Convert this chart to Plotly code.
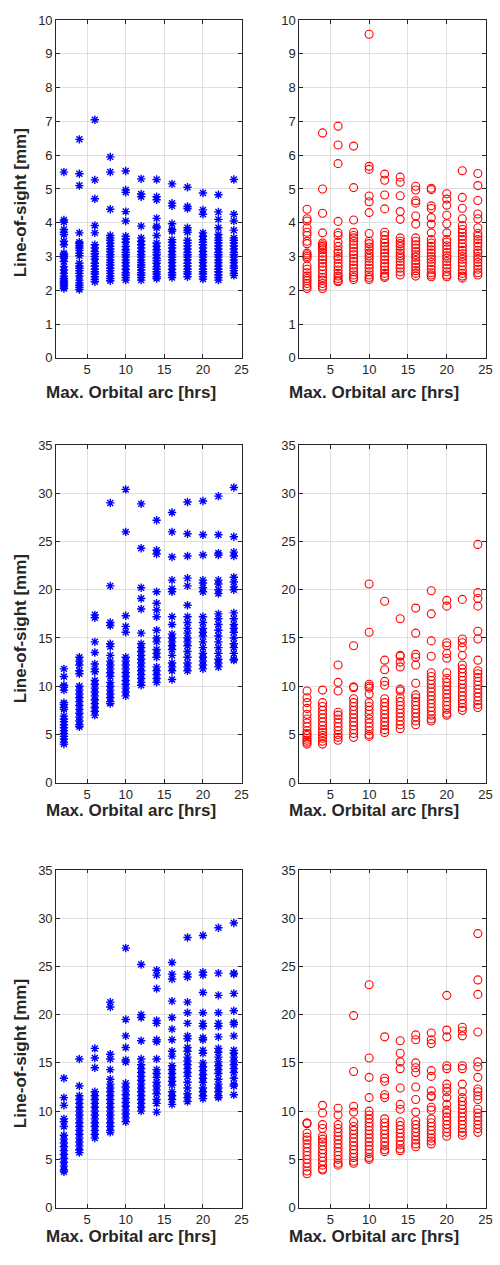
import plotly.graph_objects as go

# ---------------- data ----------------
arc_hrs = [2, 4, 6, 8, 10, 12, 14, 16, 18, 20, 22, 24]

x_title = "Max. Orbital arc [hrs]"
y_title = "Line-of-sight [mm]"

# Row 1, left (blue asterisks), one list per orbital arc
los_r1_left = [
    [5.5, 4.08, 4.02, 3.8, 3.72, 3.65, 3.45, 3.35, 3.1, 3.05, 3.0, 2.95, 2.85, 2.7, 2.6, 2.5, 2.42, 2.35, 2.3, 2.25, 2.2, 2.15, 2.1, 2.05],
    [6.47, 5.45, 5.1, 3.7, 3.42, 3.38, 3.32, 3.25, 3.18, 3.1, 3.02, 2.8, 2.72, 2.65, 2.58, 2.5, 2.42, 2.3, 2.22, 2.15, 2.08, 2.02],
    [7.05, 5.27, 4.71, 3.92, 3.7, 3.35, 3.25, 3.15, 3.08, 3.0, 2.92, 2.8, 2.72, 2.62, 2.55, 2.48, 2.4, 2.32, 2.25],
    [5.95, 5.5, 4.4, 3.62, 3.55, 3.48, 3.4, 3.3, 3.22, 3.15, 3.05, 2.98, 2.9, 2.82, 2.75, 2.65, 2.58, 2.5, 2.42, 2.35, 2.28],
    [5.53, 4.97, 4.9, 4.33, 4.05, 3.6, 3.52, 3.42, 3.3, 3.2, 3.12, 3.05, 2.98, 2.9, 2.82, 2.72, 2.62, 2.52, 2.45, 2.38, 2.3],
    [5.3, 4.85, 4.77, 3.9, 3.55, 3.45, 3.35, 3.25, 3.15, 3.05, 2.98, 2.9, 2.82, 2.75, 2.68, 2.6, 2.52, 2.45, 2.38, 2.3],
    [5.28, 4.77, 4.68, 4.13, 3.9, 3.85, 3.62, 3.4, 3.3, 3.2, 3.12, 3.05, 2.95, 2.88, 2.8, 2.7, 2.62, 2.55, 2.48, 2.4, 2.35],
    [5.15, 4.58, 4.5, 3.97, 3.8, 3.75, 3.5, 3.42, 3.33, 3.25, 3.15, 3.05, 2.98, 2.9, 2.82, 2.72, 2.62, 2.52, 2.45, 2.38],
    [5.05, 4.48, 4.42, 3.85, 3.78, 3.72, 3.48, 3.4, 3.32, 3.22, 3.12, 3.05, 2.98, 2.9, 2.8, 2.72, 2.62, 2.55, 2.48, 2.4],
    [4.88, 4.38, 4.25, 3.7, 3.6, 3.5, 3.42, 3.35, 3.25, 3.15, 3.05, 2.98, 2.9, 2.82, 2.72, 2.62, 2.55, 2.48, 2.4, 2.33],
    [4.83, 4.32, 4.1, 3.85, 3.65, 3.55, 3.48, 3.4, 3.32, 3.22, 3.12, 3.05, 2.98, 2.9, 2.82, 2.72, 2.62, 2.55, 2.45, 2.38, 2.3],
    [5.28, 4.25, 4.05, 3.78, 3.55, 3.48, 3.4, 3.32, 3.22, 3.12, 3.05, 2.98, 2.9, 2.82, 2.72, 2.65, 2.58, 2.5, 2.44],
]

# Row 1, right (red circles)
los_r1_right = [
    [4.4, 4.12, 4.05, 3.85, 3.72, 3.62, 3.45, 3.38, 3.1, 3.05, 3.0, 2.95, 2.72, 2.62, 2.52, 2.42, 2.35, 2.28, 2.2, 2.12, 2.05],
    [6.66, 5.0, 4.28, 3.7, 3.4, 3.35, 3.3, 3.25, 3.2, 3.1, 3.0, 2.9, 2.8, 2.7, 2.6, 2.48, 2.38, 2.3, 2.2, 2.12, 2.05],
    [6.86, 6.3, 5.75, 4.04, 3.7, 3.62, 3.42, 3.3, 3.18, 3.1, 3.0, 2.92, 2.8, 2.7, 2.6, 2.5, 2.42, 2.35, 2.28, 2.25],
    [6.27, 5.04, 4.08, 3.72, 3.62, 3.55, 3.45, 3.35, 3.25, 3.15, 3.05, 2.95, 2.85, 2.75, 2.65, 2.55, 2.45, 2.38, 2.32],
    [9.58, 5.67, 5.58, 4.79, 4.62, 4.3, 3.68, 3.45, 3.38, 3.28, 3.2, 3.1, 3.02, 2.95, 2.85, 2.75, 2.65, 2.55, 2.45, 2.38, 2.32],
    [5.44, 5.26, 4.82, 4.41, 3.72, 3.62, 3.5, 3.4, 3.3, 3.2, 3.1, 3.0, 2.9, 2.8, 2.7, 2.6, 2.5, 2.42, 2.38],
    [5.35, 5.2, 4.8, 4.33, 4.1, 3.55, 3.45, 3.38, 3.3, 3.2, 3.1, 3.02, 2.95, 2.85, 2.75, 2.65, 2.55, 2.45],
    [5.08, 4.97, 4.65, 4.58, 4.2, 3.96, 3.55, 3.45, 3.35, 3.25, 3.15, 3.05, 2.98, 2.88, 2.78, 2.68, 2.58, 2.5, 2.42],
    [5.02, 4.98, 4.5, 4.42, 4.15, 3.96, 3.7, 3.5, 3.4, 3.3, 3.2, 3.1, 3.0, 2.92, 2.82, 2.72, 2.62, 2.52, 2.45, 2.4],
    [4.86, 4.7, 4.52, 4.22, 3.97, 3.7, 3.5, 3.42, 3.32, 3.22, 3.12, 3.02, 2.95, 2.85, 2.75, 2.65, 2.55, 2.45, 2.4],
    [5.54, 4.75, 4.43, 4.12, 3.92, 3.8, 3.7, 3.6, 3.5, 3.38, 3.28, 3.18, 3.08, 3.0, 2.92, 2.82, 2.72, 2.6, 2.5, 2.42, 2.36],
    [5.46, 5.1, 4.66, 4.26, 4.12, 3.85, 3.68, 3.6, 3.5, 3.4, 3.3, 3.18, 3.1, 3.0, 2.92, 2.82, 2.72, 2.62, 2.52, 2.45],
]

# Row 2, left (blue asterisks)
los_r2_left = [
    [11.8, 11.0, 10.1, 9.9, 9.6, 8.3, 8.1, 7.8, 7.6, 6.9, 6.6, 6.3, 6.0, 5.7, 5.4, 5.1, 4.8, 4.5, 4.2, 4.0],
    [13.0, 12.6, 12.2, 11.6, 11.3, 10.0, 9.6, 9.2, 8.8, 8.4, 8.0, 7.6, 7.2, 6.8, 6.4, 6.0, 5.8],
    [17.4, 17.1, 14.6, 13.5, 12.3, 11.8, 11.5, 10.6, 10.2, 9.8, 9.4, 9.0, 8.6, 8.2, 7.8, 7.4, 7.0],
    [29.0, 20.4, 16.6, 16.3, 14.4, 14.1, 13.2, 12.6, 12.2, 11.8, 11.4, 11.0, 10.4, 10.0, 9.6, 9.2, 8.8, 8.4, 8.2],
    [30.4, 26.0, 17.3, 16.2, 15.6, 13.0, 12.6, 12.2, 11.8, 11.4, 11.0, 10.6, 10.2, 9.8, 9.4, 9.0],
    [28.9, 24.3, 20.2, 19.1, 18.0, 15.5, 14.4, 14.0, 13.6, 13.2, 12.8, 12.4, 12.0, 11.6, 11.2, 10.8, 10.4, 10.1],
    [27.2, 24.1, 23.7, 19.8, 18.6, 17.9, 17.2, 15.8, 15.0, 14.6, 13.8, 13.4, 13.0, 12.0, 11.6, 11.2, 10.8, 10.4],
    [28.0, 26.0, 23.4, 21.0, 20.1, 19.8, 17.2, 16.4, 15.4, 15.0, 14.6, 14.2, 13.8, 13.2, 12.4, 12.0, 11.6, 10.7],
    [29.1, 25.8, 23.5, 21.2, 20.4, 18.4, 17.2, 16.6, 16.0, 15.5, 15.0, 14.6, 14.2, 13.6, 13.0, 12.4, 12.0, 11.6],
    [29.2, 25.7, 23.6, 21.0, 20.7, 20.2, 19.8, 17.2, 16.6, 16.0, 15.6, 15.2, 14.6, 14.0, 13.4, 13.0, 12.6, 12.2, 11.8],
    [29.7, 25.7, 23.8, 23.6, 21.0, 20.6, 20.0, 19.6, 17.5, 17.0, 16.4, 15.8, 15.2, 14.6, 14.0, 13.4, 12.8, 12.4, 12.0],
    [30.6, 25.5, 23.9, 23.5, 21.3, 20.8, 20.3, 20.0, 17.6, 17.0, 16.4, 16.0, 15.6, 15.0, 14.4, 14.0, 13.4, 12.8, 12.7],
]

# Row 2, right (red circles)
los_r2_right = [
    [9.5, 8.8, 8.3, 7.7, 7.1, 6.6, 6.2, 5.8, 5.4, 5.1, 4.9, 4.6, 4.4, 4.2, 4.0],
    [9.6, 8.3, 7.9, 7.5, 7.1, 6.7, 6.3, 5.9, 5.5, 5.2, 4.9, 4.6, 4.3, 4.0],
    [12.2, 10.4, 9.5, 7.3, 7.0, 6.6, 6.2, 5.8, 5.4, 5.0, 4.7, 4.4],
    [14.2, 9.95, 9.85, 8.7, 8.3, 7.9, 7.5, 7.1, 6.7, 6.3, 5.9, 5.5, 5.1, 4.7],
    [20.6, 15.6, 10.2, 10.0, 9.8, 9.2, 8.3, 7.9, 7.5, 7.1, 6.6, 6.2, 5.8, 5.4, 5.0, 4.8],
    [18.8, 12.7, 11.7, 10.5, 10.1, 8.7, 8.3, 7.9, 7.5, 7.1, 6.7, 6.3, 5.9, 5.5, 5.2],
    [17.0, 13.2, 13.1, 12.5, 12.0, 9.7, 9.5, 8.8, 8.4, 8.0, 7.6, 7.2, 6.8, 6.4, 6.0, 5.6],
    [18.1, 15.5, 13.3, 13.0, 12.2, 10.3, 9.1, 8.8, 8.4, 8.0, 7.6, 7.2, 6.8, 6.4, 6.0],
    [19.9, 17.5, 14.7, 13.1, 11.4, 11.0, 10.6, 10.2, 9.8, 9.4, 9.0, 8.6, 8.2, 7.8, 7.4, 7.0, 6.6, 6.4],
    [18.9, 18.3, 14.5, 14.2, 13.4, 12.9, 11.4, 10.8, 10.4, 10.0, 9.6, 9.2, 8.8, 8.4, 8.0, 7.6, 7.2, 7.0],
    [19.0, 14.9, 14.5, 14.0, 13.2, 12.2, 11.8, 11.4, 11.0, 10.6, 10.2, 9.8, 9.4, 9.0, 8.6, 8.2, 7.8, 7.5],
    [24.7, 19.7, 19.1, 18.3, 15.7, 14.9, 12.7, 11.6, 11.3, 10.9, 10.5, 10.1, 9.7, 9.3, 8.9, 8.5, 8.1, 7.8],
]

# Row 3, left (blue asterisks)
los_r3_left = [
    [13.4, 11.4, 10.6, 9.2, 8.9, 8.4, 7.5, 7.1, 6.7, 6.3, 5.9, 5.5, 5.1, 4.7, 4.3, 3.9, 3.7],
    [15.4, 12.6, 11.6, 11.2, 10.8, 10.4, 10.0, 9.6, 9.2, 8.8, 8.4, 8.0, 7.6, 7.2, 6.8, 6.4, 6.0, 5.7],
    [16.5, 15.5, 14.5, 12.0, 11.6, 11.2, 10.8, 10.4, 10.0, 9.6, 9.2, 8.8, 8.4, 8.0, 7.6, 7.2],
    [21.3, 20.8, 15.9, 15.4, 14.3, 13.3, 12.8, 12.4, 12.0, 11.6, 11.2, 10.8, 10.4, 10.0, 9.6, 9.2, 8.8, 8.4, 8.0, 7.8],
    [26.9, 19.5, 17.8, 16.6, 15.3, 15.1, 12.9, 12.5, 12.1, 11.7, 11.3, 10.9, 10.5, 10.1, 9.7, 9.3, 8.9],
    [25.2, 20.0, 19.7, 17.3, 15.4, 14.8, 14.4, 14.0, 13.6, 13.2, 12.8, 12.4, 12.0, 11.6, 11.2, 10.8, 10.4, 10.0],
    [24.6, 24.1, 22.7, 19.4, 19.1, 17.4, 17.2, 15.4, 14.3, 13.9, 13.5, 13.0, 12.6, 12.2, 11.8, 11.2, 10.8, 9.9],
    [25.4, 24.2, 23.7, 21.4, 19.7, 18.5, 17.4, 16.2, 15.7, 14.7, 14.3, 13.9, 13.5, 13.1, 12.7, 12.0, 11.6, 11.2, 10.7],
    [28.0, 24.2, 23.9, 21.3, 20.2, 19.1, 17.8, 17.5, 16.6, 16.2, 15.6, 15.2, 14.8, 14.4, 14.0, 13.6, 13.0, 12.4, 11.8, 11.4, 11.0],
    [28.2, 24.4, 24.1, 22.3, 20.2, 19.1, 18.8, 17.6, 17.4, 16.3, 16.0, 15.0, 14.6, 14.2, 13.8, 13.4, 13.0, 12.4, 12.0, 11.6, 11.3],
    [29.0, 24.3, 22.0, 20.2, 19.1, 18.8, 17.7, 16.5, 16.1, 15.6, 15.1, 14.7, 14.3, 13.9, 13.3, 12.8, 12.4, 12.0, 11.6, 11.4],
    [29.5, 24.3, 24.2, 22.2, 20.4, 19.2, 19.0, 17.8, 16.3, 16.0, 15.6, 15.2, 14.8, 14.4, 14.0, 13.4, 12.8, 12.6, 11.7],
]

# Row 3, right (red circles)
los_r3_right = [
    [8.8, 8.7, 7.7, 7.3, 7.0, 6.6, 6.2, 5.8, 5.4, 5.0, 4.6, 4.2, 3.8, 3.5],
    [10.6, 9.8, 8.6, 8.2, 7.4, 7.1, 6.8, 6.4, 6.0, 5.6, 5.2, 4.8, 4.4, 4.0, 3.9],
    [10.3, 9.6, 8.6, 8.2, 7.8, 7.4, 7.0, 6.6, 6.2, 5.8, 5.4, 5.0, 4.6, 4.4],
    [19.9, 14.1, 10.5, 9.9, 8.9, 8.4, 8.0, 7.6, 7.2, 6.8, 6.4, 6.0, 5.6, 5.2, 4.8, 4.6],
    [23.1, 15.5, 13.5, 11.4, 10.0, 9.6, 9.2, 8.8, 8.4, 8.0, 7.6, 7.2, 6.8, 6.4, 6.0, 5.6, 5.2, 5.0],
    [17.7, 13.4, 13.1, 11.7, 11.4, 9.2, 8.8, 8.4, 8.0, 7.6, 7.2, 6.8, 6.4, 6.0, 5.8],
    [17.3, 16.0, 15.1, 14.4, 12.4, 10.7, 10.2, 8.9, 8.5, 8.1, 7.7, 7.3, 6.9, 6.5, 6.1, 5.9],
    [17.9, 17.4, 15.0, 14.5, 14.0, 12.5, 11.2, 9.9, 9.0, 8.6, 8.2, 7.8, 7.4, 7.0, 6.6, 6.3],
    [18.1, 17.4, 17.0, 14.2, 13.6, 12.1, 11.6, 11.5, 10.4, 10.1, 9.2, 8.8, 8.4, 8.0, 7.6, 7.2, 6.9, 6.6],
    [22.0, 18.4, 17.7, 14.7, 14.4, 12.8, 12.4, 12.0, 11.4, 10.7, 10.1, 9.8, 9.4, 9.0, 8.6, 8.2, 7.8, 7.4],
    [18.7, 18.3, 17.8, 14.7, 14.4, 12.8, 12.0, 11.4, 11.0, 10.6, 10.2, 9.8, 9.4, 9.0, 8.6, 8.2, 7.8, 7.5],
    [28.4, 23.6, 22.1, 18.2, 15.1, 14.6, 13.5, 12.3, 12.0, 11.6, 11.2, 10.2, 9.8, 9.4, 9.0, 8.6, 8.2, 7.8],
]

y_ranges = [[0, 10], [0, 35], [0, 35]]
y_dticks = [1, 5, 5]

# ---------------- layout geometry (pixels) ----------------
W, H = 500, 1265
col_px = [(57.0, 245.0), (303.5, 492.5)]
row_px = [(13.3, 355.0), (443.3, 785.0), (873.3, 1215.0)]

def fx(px):
    return px / W

def fy(py):
    return 1 - py / H

FONT = "Liberation Sans, Arial, Helvetica, sans-serif"
AX_COL = "#262626"
GRID_COL = "#dfdfdf"

panels = [
    (0, 0, los_r1_left, "blue"), (0, 1, los_r1_right, "red"),
    (1, 0, los_r2_left, "blue"), (1, 1, los_r2_right, "red"),
    (2, 0, los_r3_left, "blue"), (2, 1, los_r3_right, "red"),
]

fig = go.Figure()
layout = {}
annotations = []

for i, (r, c, series, color) in enumerate(panels):
    n = i + 1
    xa = "x" if n == 1 else f"x{n}"
    ya = "y" if n == 1 else f"y{n}"
    xs, ys = [], []
    for arc, vals in zip(arc_hrs, series):
        for v in vals:
            xs.append(arc)
            ys.append(v)
    if color == "blue":
        marker = dict(symbol="asterisk-open", size=7, color="#0000ff",
                      line=dict(color="#0000ff", width=1.4))
    else:
        marker = dict(symbol="circle-open", size=8, color="#ff0000",
                      line=dict(color="#ff0000", width=1.1))
    fig.add_trace(go.Scatter(x=xs, y=ys, mode="markers", marker=marker,
                             xaxis=xa, yaxis=ya, showlegend=False,
                             hoverinfo="skip"))

    x0, x1 = col_px[c]
    y0, y1 = row_px[r]
    common = dict(showline=True, linecolor=AX_COL, linewidth=1, mirror="ticks",
                  ticks="inside", ticklen=3.5, tickwidth=1, tickcolor=AX_COL,
                  showgrid=True, gridcolor=GRID_COL, gridwidth=1,
                  zeroline=False,
                  tickfont=dict(family=FONT, size=13, color=AX_COL))
    layout["xaxis" if n == 1 else f"xaxis{n}"] = dict(
        domain=[fx(x0), fx(x1)], range=[1, 25], tick0=0, dtick=5,
        anchor=ya, **common)
    layout["yaxis" if n == 1 else f"yaxis{n}"] = dict(
        domain=[fy(y1), fy(y0)], range=y_ranges[r], tick0=0, dtick=y_dticks[r],
        anchor=xa, **common)

# axis titles
xlabel_y = [390, 813, 1244]
xlabel_x = [132.5, 379.0]
ylabel_y = [198, 629, 1059]
for r in range(3):
    for c in range(2):
        annotations.append(dict(
            text=f"<b>{x_title}</b>", xref="paper", yref="paper",
            x=fx(xlabel_x[c]), y=fy(xlabel_y[r]), xanchor="center", yanchor="middle",
            showarrow=False, font=dict(family=FONT, size=17, color=AX_COL)))
    annotations.append(dict(
        text=f"<b>{y_title}</b>", xref="paper", yref="paper",
        x=fx(21), y=fy(ylabel_y[r]), xanchor="center", yanchor="middle",
        textangle=-90, showarrow=False,
        font=dict(family=FONT, size=17, color=AX_COL)))

fig.update_layout(
    width=W, height=H,
    margin=dict(l=0, r=0, t=0, b=0),
    paper_bgcolor="white", plot_bgcolor="white",
    annotations=annotations,
    **layout,
)

fig.write_html("out.html")
